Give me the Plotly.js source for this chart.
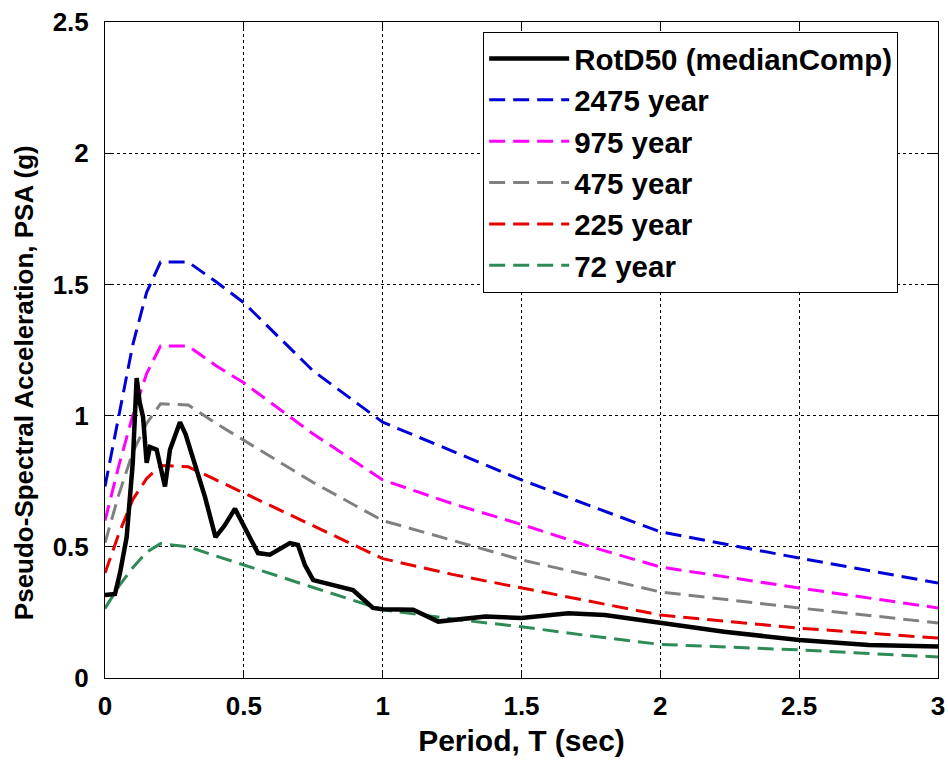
<!DOCTYPE html>
<html>
<head>
<meta charset="utf-8">
<script src="https://cdn.plot.ly/plotly-3.0.1.min.js"></script>
<style>html,body{margin:0;padding:0;background:#fff;}#chart{width:948px;height:761px;}</style>
</head>
<body>
<div id="chart"></div>
<script>
// Hazard (uniform hazard spectrum) periods, sec
const periodsUHS = [0, 0.05, 0.1, 0.15, 0.2, 0.3, 0.4, 0.5, 0.75, 1.0, 1.25, 1.5, 1.75, 2.0, 2.5, 3.0];
const psa2475 = [0.73, 1.00, 1.27, 1.47, 1.585, 1.585, 1.51, 1.43, 1.17, 0.975, 0.865, 0.755, 0.655, 0.557, 0.457, 0.362];
const psa975  = [0.60, 0.81, 1.00, 1.16, 1.265, 1.265, 1.19, 1.125, 0.93, 0.755, 0.665, 0.585, 0.50, 0.423, 0.343, 0.267];
const psa475  = [0.515, 0.70, 0.86, 0.97, 1.045, 1.04, 0.97, 0.905, 0.745, 0.60, 0.525, 0.45, 0.39, 0.328, 0.267, 0.21];
const psa225  = [0.40, 0.55, 0.68, 0.76, 0.81, 0.805, 0.755, 0.705, 0.58, 0.455, 0.395, 0.343, 0.29, 0.24, 0.19, 0.152];
const psa72   = [0.265, 0.35, 0.42, 0.48, 0.512, 0.50, 0.465, 0.43, 0.345, 0.26, 0.225, 0.195, 0.16, 0.128, 0.107, 0.08];

// RotD50 recorded spectrum
const periodsRot = [0.0, 0.036, 0.054, 0.078, 0.1, 0.114, 0.125, 0.137, 0.15, 0.162, 0.186, 0.216, 0.234, 0.27, 0.29, 0.317, 0.36, 0.398, 0.43, 0.468, 0.51, 0.551, 0.594, 0.63, 0.666, 0.695, 0.72, 0.75, 0.82, 0.893, 0.93, 0.965, 1.0, 1.05, 1.11, 1.2, 1.37, 1.5, 1.668, 1.8, 2.0, 2.23, 2.5, 2.75, 3.0];
const psaRot = [0.316, 0.32, 0.40, 0.537, 0.82, 1.143, 1.05, 0.995, 0.82, 0.88, 0.87, 0.73, 0.87, 0.975, 0.93, 0.84, 0.69, 0.537, 0.58, 0.645, 0.56, 0.476, 0.47, 0.49, 0.514, 0.507, 0.43, 0.373, 0.355, 0.335, 0.30, 0.267, 0.262, 0.26, 0.26, 0.215, 0.234, 0.229, 0.247, 0.24, 0.209, 0.176, 0.145, 0.126, 0.12];

const names = ['2475 year', '975 year', '475 year', '225 year', '72 year'];
const colors = ['#0000d8', '#ff00ff', '#808080', '#e80000', '#2e8b57'];
const series = [psa2475, psa975, psa475, psa225, psa72];

const FONT = 'Liberation Sans, Arial, Helvetica, sans-serif';
const traces = series.map((ys, i) => ({
  x: periodsUHS, y: ys, type: 'scatter', mode: 'lines', name: names[i],
  legendrank: i + 2,
  line: {color: colors[i], width: 3, dash: '16px,8px'}
}));
traces.push({
  x: periodsRot, y: psaRot, type: 'scatter', mode: 'lines', name: 'RotD50 (medianComp)',
  legendrank: 1,
  line: {color: '#000000', width: 4.5}
});

const axisCommon = {
  showline: true, linecolor: '#000', linewidth: 1, mirror: 'ticks',
  ticks: 'inside', ticklen: 8, tickcolor: '#000',
  showgrid: true, gridcolor: '#000', gridwidth: 1, griddash: 'dot',
  zeroline: false,
  tickfont: {family: FONT, size: 26, color: '#000', weight: 'bold'}
};

const layout = {
  width: 948, height: 761,
  margin: {l: 105, r: 10, t: 22, b: 83},
  paper_bgcolor: '#fff', plot_bgcolor: '#fff',
  showlegend: true,
  xaxis: Object.assign({}, axisCommon, {
    range: [0, 3], dtick: 0.5, tick0: 0, ticklabelstandoff: 5,
    title: {text: 'Period, T (sec)', font: {family: FONT, size: 30, color: '#000', weight: 'bold'}, standoff: 9}
  }),
  yaxis: Object.assign({}, axisCommon, {
    range: [0, 2.5], dtick: 0.5, tick0: 0, ticklabelstandoff: 10
  }),
  annotations: [{
    text: 'Pseudo-Spectral Acceleration, PSA (g)', textangle: -90,
    xref: 'paper', yref: 'paper', x: -0.098, y: 0.45, xanchor: 'center', yanchor: 'middle',
    showarrow: false, font: {family: FONT, size: 26, color: '#000', weight: 'bold'}
  }],
  legend: {
    x: 0.454, y: 0.985, xanchor: 'left', yanchor: 'top',
    bgcolor: '#fff', bordercolor: '#000', borderwidth: 1,
    itemwidth: 80,
    font: {family: FONT, size: 29.5, color: '#000', weight: 'bold'}
  }
};

Plotly.newPlot('chart', traces, layout, {displayModeBar: false, staticPlot: true});
</script>
</body>
</html>
